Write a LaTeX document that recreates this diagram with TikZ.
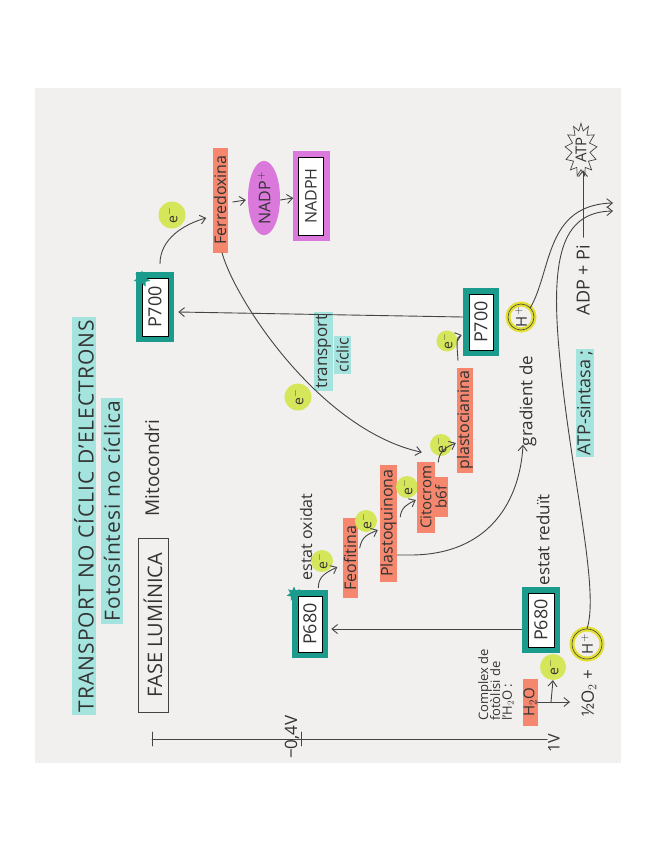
\documentclass[tikz,border=0pt]{standalone}
\usepackage{fontspec}
\setmainfont{Open Sans}
\usepackage{graphicx}
\usetikzlibrary{arrows.meta,calc,shapes.geometric,shapes.symbols}
\definecolor{paperc}{HTML}{F2F0EE}
\definecolor{inkc}{HTML}{444444}
\definecolor{textc}{HTML}{333333}
\definecolor{tealc}{HTML}{1A9B8C}
\definecolor{salmonc}{HTML}{F5876F}
\definecolor{limec}{HTML}{D6E65A}
\definecolor{magc}{HTML}{DA78DC}
\definecolor{cyanc}{HTML}{A5E4DE}
\definecolor{yelc}{HTML}{E2DF32}
\newcommand{\rt}[1]{\rotatebox{90}{#1}}
\begin{document}
\begin{tikzpicture}[x=1pt,y=-1pt,
  text=textc,
  fs/.style={font=\fontsize{#1}{#1}\selectfont},
  conn/.style={draw=inkc, line width=0.9pt, line cap=round},
  >={Straight Barb[length=5.5pt,width=9pt]},
  hl/.style={fill=cyanc, inner sep=2.5pt},
  tealbox/.style={draw=black, line width=0.6pt, fill=white, inner sep=0pt, fs=18,
     preaction={draw=tealc, line width=12pt}},
  magbox/.style={draw=black, line width=0.6pt, fill=white, inner sep=0pt, fs=16,
     preaction={draw=magc, line width=12pt}},
  tstar/.style={star, star points=7, star point ratio=1.9, fill=tealc, minimum size=15pt, inner sep=0pt},
  redbox/.style={fill=salmonc, inner sep=0pt, fs=16},
  ecirc/.style={circle, fill=limec, inner sep=0pt, fs=14},
  hring/.style={circle, draw=inkc, line width=0.6pt, inner sep=0pt, fs=15,
     preaction={draw=yelc, line width=5pt}},
]
\fill[white] (0,0) rectangle (655,848);
\fill[paperc] (35,88) rectangle (621,763);
\useasboundingbox (0,0) rectangle (655,848);

% headings
\node[hl, font=\fontsize{21}{21}\selectfont\addfontfeature{LetterSpace=5}] (title) at (84,516) {\rt{TRANSPORT NO CÍCLIC D'ELECTRONS}};
\node[hl, font=\fontsize{21}{21}\selectfont\addfontfeature{LetterSpace=5}] (fotos) at (112,511) {\rt{Fotosíntesi no cíclica}};
\node[draw=inkc, line width=0.9pt, minimum width=30pt, minimum height=174pt, inner sep=0pt, fs=20] (fase) at (153,625) {\rt{FASE LUMÍNICA}};
\node[fs=19] (mito) at (152,468) {\rt{Mitocondri}};

% axis
\coordinate (ax0) at (152,739);
\node[fs=17, inner sep=1pt] (m04) at (292,737) {\rt{−0,4V}};
\node[fs=16, inner sep=1pt] (onev) at (554,743) {\rt{1V}};
\draw[conn] (ax0) -- (ax0 -| onev.west);
\draw[conn] ($(ax0)+(0,-7)$) -- ($(ax0)+(0,7)$);
\draw[conn] (301,732) -- (301,746);

% photosystem II
\node[tealbox, minimum width=24pt, minimum height=56pt] (p680s) at (310,624) {\rt{P680}};
\node[tstar] (p680star) at (294,594) {};
\node[fs=16] (estatox) at (306,537) {\rt{estat oxidat}};
\node[tealbox, minimum width=26pt, minimum height=54pt] (p680) at (541,620) {\rt{P680}};
\node[fs=17] (estatred) at (543,540) {\rt{estat reduït}};

% chain
\node[ecirc, minimum size=22pt] (e1) at (322,561) {\rt{e$^-$}};
\node[redbox, minimum width=15pt, minimum height=80pt] (feo) at (350,558) {\rt{Feofitina}};
\node[ecirc, minimum size=22pt] (e2) at (366,521) {\rt{e$^-$}};
\node[redbox, minimum width=17pt, minimum height=117pt] (plasto) at (388.5,523) {\rt{Plastoquinona}};
\node[ecirc, minimum size=22pt] (e3) at (407,487) {\rt{e$^-$}};
\node[redbox, minimum width=18pt, minimum height=71pt, fs=15] (cito) at (426,497) {\rt{Citocrom}};
\node[redbox, minimum width=14pt, minimum height=40pt, fs=15] (b6f) at (441,497) {\rt{b6f}};
\node[ecirc, minimum size=22pt] (e4) at (441,445) {\rt{e$^-$}};
\node[redbox, minimum width=15pt, minimum height=105pt] (plastoc) at (465,420) {\rt{plastocianina}};
\node[ecirc, minimum size=21pt] (e5) at (447,341) {\rt{e$^-$}};

% photosystem I
\node[tealbox, minimum width=24pt, minimum height=56pt] (p700) at (481,322) {\rt{P700}};
\node[tealbox, minimum width=26pt, minimum height=58pt] (p700s) at (155,307) {\rt{P700}};
\node[tstar, minimum size=17pt] (p700star) at (142,279) {};
\node[ecirc, minimum size=27pt] (e6) at (172,215) {\rt{e$^-$}};
\node[redbox, minimum width=15pt, minimum height=105pt] (ferre) at (220,200) {\rt{Ferredoxina}};
\node[ellipse, fill=magc, inner sep=0pt, minimum width=32pt, minimum height=73pt, fs=16] (nadp) at (264,198) {\rt{NADP$^+$}};
\node[magbox, minimum width=25pt, minimum height=78pt] (nadph) at (311,196) {\rt{NADPH}};

% cyclic transport
\node[ecirc, minimum size=27pt] (ecyc) at (298,397) {\rt{e$^-$}};
\node[hl, inner sep=2pt, minimum width=17pt, fs=17] (transp) at (323.5,351.5) {\rt{transport}};
\node[hl, inner sep=2pt, minimum width=16pt, fs=16] (ciclic) at (342.5,355) {\rt{cíclic}};

% gradient and ATP
\node[fs=17] (gradient) at (528,401) {\rt{gradient de}};
\node[hring, minimum size=26pt] (hgrad) at (521,317) {\rt{H$^+$}};
\node[hl, inner sep=1.5pt, fs=18] (atps) at (585,403) {\rt{ATP-sintasa ;}};
\node[fs=18] (adp) at (583,280) {\rt{ADP + Pi}};
\node[starburst, draw=inkc, line width=0.7pt, starburst points=13, starburst point height=7pt, random starburst=0, minimum width=24pt, minimum height=42pt, inner sep=1pt, fs=15] (atp) at (581,150) {\rt{ATP}};
\coordinate (out1) at (613,203);
\coordinate (out2) at (613,211);

% water splitting
\node[fs=13, inner sep=0pt] (complex) at (497,685) {\rt{\begin{tabular}{@{}l@{}}Complex de\\[-2pt] fotòlisi de\\[-2pt] l'H$_2$O :\end{tabular}}};
\node[redbox, minimum width=15pt, minimum height=47pt, fs=15] (h2o) at (530,702) {\rt{H$_2$O}};
\node[ecirc, minimum size=26pt] (e7) at (553,667) {\rt{e$^-$}};
\node[fs=17] (half) at (589,693) {\rt{½O$_2$ +}};
\node[hring, minimum size=30pt] (hbot) at (587,644) {\rt{H$^+$}};
\coordinate (split) at (551,702);
\coordinate (splitend) at (570,702);

% connectors
\draw[conn,->] ($(p680s.north east)+(-4,-8)$) .. controls +(0,-12) and +(-10,5) .. ($(feo.west)+(-5,9)$);
\draw[conn,->] ($(feo.east)+(2,-10)$) .. controls +(2,-12) and +(-9,4) .. ($(plasto.west)+(-2,7)$);
\draw[conn,->] ($(plasto.east)+(3,-6)$) .. controls +(1,-10) and +(-8,4) .. ($(cito.west)+(-1,3)$);
\draw[conn,->] ($(cito.north east)+(3,1)$) .. controls +(1,-12) and +(-9,4) .. ($(plastoc.west)+(-1,23)$);
\draw[conn,->] ($(plastoc.north)+(-7,-7)$) .. controls +(-1,-15) and +(-6,2) .. ($(p700.west)+(-7,13)$);
\draw[conn,->] ($(p700.west)+(-6,-5)$) -- ($(p700s.east)+(10,5)$);
\draw[conn,->] ($(p700s.north)+(5,-14)$) .. controls +(0,-25) and +(-22,6) .. ($(ferre.west)+(-6,18)$);
\draw[conn,->] ($(ferre.east)+(5,2)$) -- ($(nadp.west)+(-2,2)$);
\draw[conn,->] ($(nadp.east)+(0,2)$) -- ($(nadph.west)+(-5,2)$);
\draw[conn,->] ($(ferre.south)+(2,0)$) .. controls (235,300) and (320,430) .. ($(cito.north west)+(5,-9)$);
\draw[conn,->] ($(plasto.east)+(0,32)$) -- ++(13,0) .. controls (490,555) and (520,500) .. ($(gradient.south)+(-5,-5)$);
\draw[conn,->] (hgrad.north east) .. controls (552,270) and (545,205) .. (out1);
\draw[conn,->] (hbot.north) .. controls (600,590) and (570,470) .. (560,360) .. controls (550,260) and (560,212) .. (out2);
\draw[conn,->] ($(adp.north)+(0,-4)$) -- (adp.north |- atp.south);
\draw[conn,->] ($(p680.west)+(-6,9)$) -- ($(p680s.east)+(9,5)$);
\draw[conn] (h2o.east) -- (split);
\draw[conn,->] (split) -- (e7.south);
\draw[conn,->] (split) -- (splitend);
\end{tikzpicture}
\end{document}
